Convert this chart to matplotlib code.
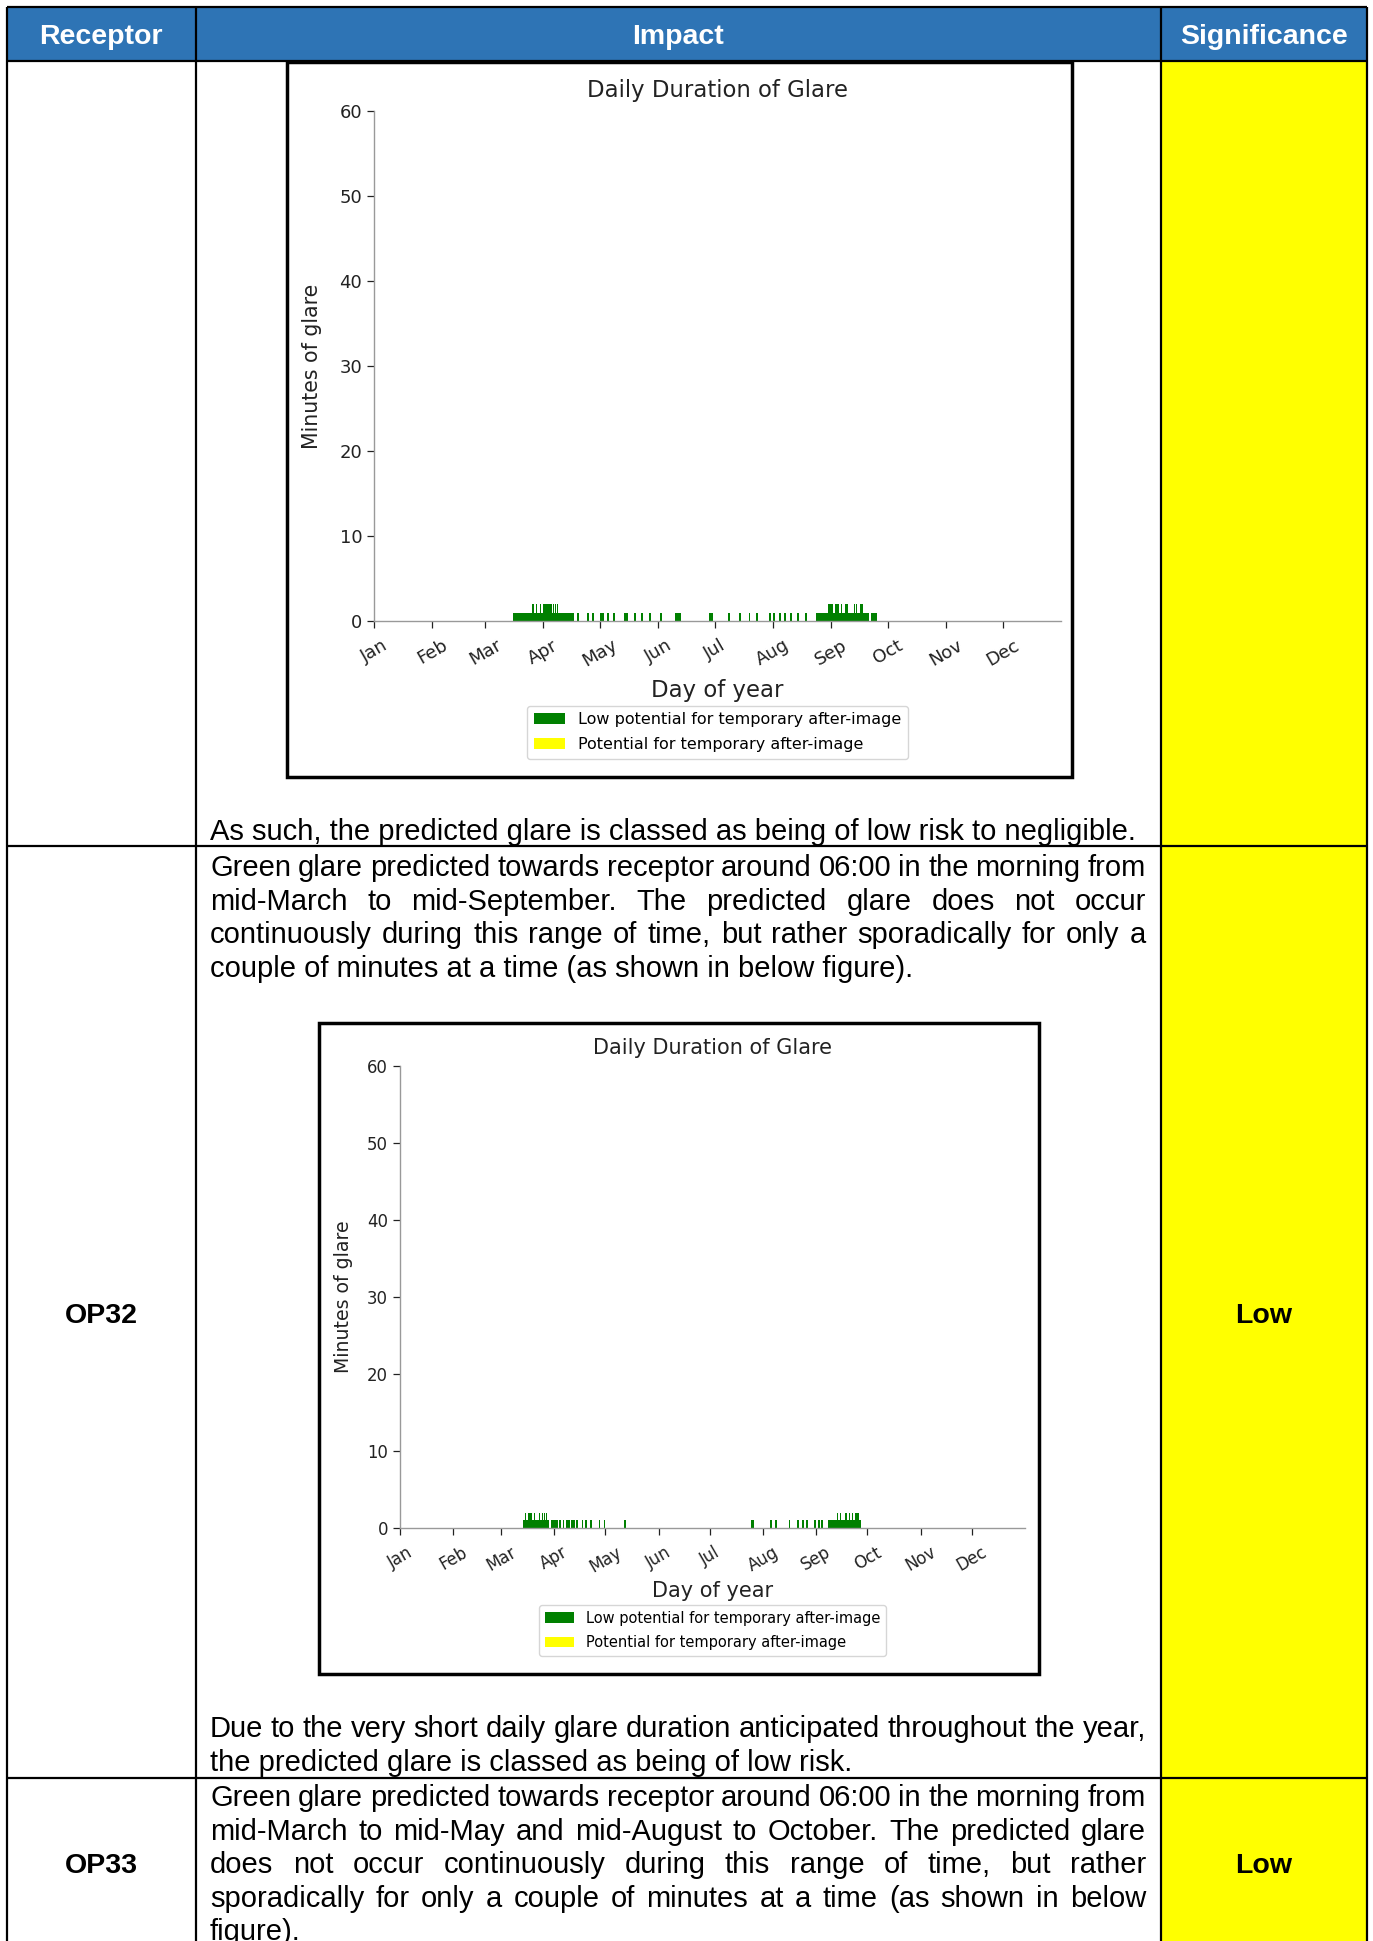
import matplotlib
matplotlib.use('Agg')
import matplotlib.pyplot as plt
from matplotlib.patches import Rectangle, Patch

W, H = 1373, 1941

months = ['Jan', 'Feb', 'Mar', 'Apr', 'May', 'Jun', 'Jul', 'Aug', 'Sep', 'Oct', 'Nov', 'Dec']
month_days = [0, 31, 59, 90, 120, 151, 181, 212, 243, 273, 304, 334]
legend_labels = ['Low potential for temporary after-image', 'Potential for temporary after-image']

# top chart (end of previous receptor): runs of days with 1 minute of glare
top_start = [74, 108, 113, 116, 120, 124, 127, 133, 138, 142, 146, 152, 160, 178,
             188, 194, 199, 203, 210, 212, 215, 218, 221, 225, 229, 235, 264, 265, 266]
top_len = [32, 1, 1, 1, 2, 1, 1, 2, 1, 1, 1, 1, 3, 2,
           1, 1, 1, 1, 1, 1, 1, 1, 1, 1, 1, 28, 1, 1, 1]
# days with 2 minutes
top_two = [84, 86, 88, 90, 91, 92, 93, 94, 95, 96, 97,
           241, 242, 243, 245, 246, 248, 250, 251, 255, 256, 258, 259]

# OP32 chart
op32_start = [72, 88, 93, 95, 97, 98, 100, 101, 103, 106, 108, 111, 116, 119, 131,
              205, 216, 219, 227, 232, 235, 237, 242, 244, 246, 250]
op32_len = [15, 4, 1, 1, 1, 1, 1, 1, 1, 1, 1, 1, 1, 1, 1,
            2, 1, 1, 1, 1, 1, 1, 1, 1, 1, 19]
op32_two = [73, 75, 76, 78, 81, 83, 84, 85,
            255, 257, 260, 262, 264, 266, 267]

header = ['Receptor', 'Impact', 'Significance']
receptors = ['OP32', 'OP33']
significance = ['Low', 'Low']

row1_text = ['As such, the predicted glare is classed as being of low risk to negligible.']
op32_text = ['Green glare predicted towards receptor around 06:00 in the morning from',
             'mid-March to mid-September. The predicted glare does not occur',
             'continuously during this range of time, but rather sporadically for only a',
             'couple of minutes at a time (as shown in below figure).']
op32_after = ['Due to the very short daily glare duration anticipated throughout the year,',
              'the predicted glare is classed as being of low risk.']
op33_text = ['Green glare predicted towards receptor around 06:00 in the morning from',
             'mid-March to mid-May and mid-August to October. The predicted glare',
             'does not occur continuously during this range of time, but rather',
             'sporadically for only a couple of minutes at a time (as shown in below',
             'figure).']

fig = plt.figure(figsize=(W / 100, H / 100), dpi=100)
page = fig.add_axes([0, 0, 1, 1])
page.set_xlim(0, W)
page.set_ylim(H, 0)
page.axis('off')

blue = '#2E74B5'
body_font = 'Liberation Sans'
body_size = 21

# header band and yellow significance column
page.add_patch(Rectangle((7, 7), 1360, 54, facecolor=blue, edgecolor='none'))
page.add_patch(Rectangle((1161, 61), 206, H, facecolor='#FFFF00', edgecolor='none'))

for x in [7, 196, 1161, 1367]:
    page.plot([x, x], [7, H + 5], color='black', lw=1.6, solid_capstyle='butt')
for y in [7, 61, 846, 1778]:
    page.plot([7, 1367], [y, y], color='black', lw=1.6, solid_capstyle='butt')

for cx, label in zip([101, 678, 1264], header):
    page.text(cx, 37, label, ha='center', va='center', color='white',
              fontsize=20.5, fontweight='bold', family=body_font)

for cy, rec, sig in zip([1316, 1866], receptors, significance):
    page.text(101, cy, rec, ha='center', va='center', fontsize=20.5,
              fontweight='bold', family=body_font)
    page.text(1264, cy, sig, ha='center', va='center', fontsize=20.5,
              fontweight='bold', family=body_font)

renderer = fig.canvas.get_renderer()
text_left, text_right, line_gap = 210, 1146, 33.6


def put_paragraph(lines, y0):
    # justified like the Word table, last line left aligned
    for i, line in enumerate(lines):
        y = y0 + i * line_gap
        if i == len(lines) - 1:
            page.text(text_left, y, line, va='baseline', fontsize=body_size, family=body_font)
            continue
        words = line.split()
        texts = [page.text(0, y, w, va='baseline', fontsize=body_size, family=body_font)
                 for w in words]
        widths = [t.get_window_extent(renderer).width for t in texts]
        gap = (text_right - text_left - sum(widths)) / (len(words) - 1)
        x = text_left
        for t, w in zip(texts, widths):
            t.set_x(x)
            x += w + gap


put_paragraph(row1_text, 840)
put_paragraph(op32_text, 876)
put_paragraph(op32_after, 1737)
put_paragraph(op33_text, 1806)

# chart frames
page.add_patch(Rectangle((287, 62), 785, 715, facecolor='white', edgecolor='black', lw=2.5))
page.add_patch(Rectangle((319, 1023), 720, 651, facecolor='white', edgecolor='black', lw=2.5))


def glare_chart(box, starts, lengths, two_min, s):
    x0, y0, x1, y1 = box
    ax = fig.add_axes([x0 / W, 1 - y1 / H, (x1 - x0) / W, (y1 - y0) / H])
    ax.bar(starts, [1] * len(starts), width=lengths, align='edge', color='green', lw=0)
    ax.bar(two_min, [2] * len(two_min), width=0.8, align='edge', color='green', lw=0)
    ax.set_xlim(0, 365)
    ax.set_ylim(0, 60)
    ax.set_yticks([0, 10, 20, 30, 40, 50, 60])
    ax.set_xticks(month_days)
    ax.set_xticklabels(months, rotation=30, ha='center')
    ax.tick_params(labelsize=13 * s, colors='#222222', length=5, width=0.9)
    ax.tick_params(axis='x', pad=6)
    for side in ['top', 'right']:
        ax.spines[side].set_visible(False)
    for side in ['left', 'bottom']:
        ax.spines[side].set_color('#999999')
        ax.spines[side].set_linewidth(1.0)
    ax.text(0.5, 1.04, 'Daily Duration of Glare', transform=ax.transAxes,
            ha='center', va='center', fontsize=16.4 * s, color='#222222')
    ax.set_xlabel('Day of year', fontsize=16.4 * s, color='#222222', va='center')
    ax.xaxis.set_label_coords(0.5, -0.137)
    ax.set_ylabel('Minutes of glare', fontsize=14.8 * s, color='#222222', va='center')
    ax.yaxis.set_label_coords(-0.09, 0.5)
    handles = [Patch(facecolor='green'), Patch(facecolor='yellow')]
    ax.legend(handles, legend_labels, loc='upper center', bbox_to_anchor=(0.5, -0.166),
              borderaxespad=0, fontsize=11.5 * s, labelspacing=0.65)
    return ax


glare_chart((374, 111, 1061, 621), top_start, top_len, top_two, 1.0)
glare_chart((400, 1066, 1025, 1528), op32_start, op32_len, op32_two, 0.917)

fig.savefig('out.png', dpi=100)
